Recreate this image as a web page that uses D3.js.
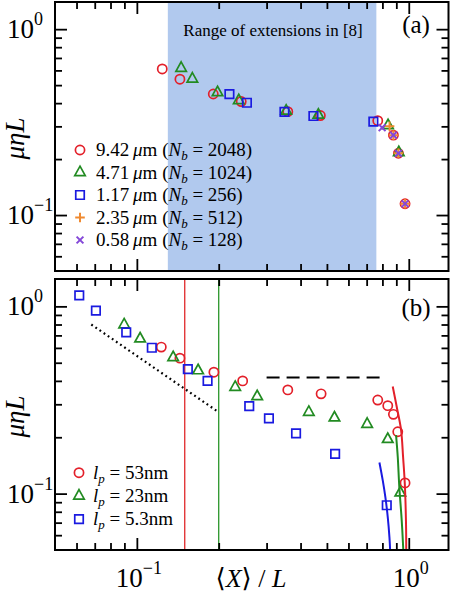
<!DOCTYPE html>
<html><head><meta charset="utf-8">
<script src="https://cdn.jsdelivr.net/npm/d3@7"></script>
<style>
html,body{margin:0;padding:0;background:#fff;}
svg{display:block;}
</style></head><body>
<div id="chart"></div>
<script>
// ---------- DATA ----------
const xMajor = [0.1, 1];
const xMinor = [0.06,0.07,0.08,0.09,0.2,0.3,0.4,0.5,0.6,0.7,0.8,0.9];
const yMajor = [0.1, 1];
const yMinor = [0.06,0.07,0.08,0.09,0.2,0.3,0.4,0.5,0.6,0.7,0.8,0.9];
const tickLabels = [{v:0.1, base:"10", exp:"\u22121"}, {v:1, base:"10", exp:"0"}];

// panel (a)
const shadeRange = [0.13, 0.76];
const a_942 = [[0.124,0.611],[0.144,0.538],[0.191,0.448],[0.242,0.408],[0.359,0.360],[0.473,0.343],[0.769,0.322],[0.878,0.269],[0.916,0.215],[0.969,0.115]];
const a_471 = [[0.1455,0.617],[0.160,0.540],[0.198,0.456],[0.237,0.413],[0.354,0.363],[0.465,0.345],[0.839,0.303],[0.919,0.217]];
const a_117 = [[0.219,0.447],[0.254,0.402],[0.349,0.359],[0.446,0.341],[0.741,0.318]];
const a_235 = [[0.850,0.300],[0.878,0.269],[0.916,0.215],[0.969,0.115]];
const a_058 = [[0.798,0.295],[0.878,0.269],[0.916,0.215],[0.969,0.115]];
const legendA = [
  {num:"9.42", nb:"2048", sym:"circle", color:"#e3202a"},
  {num:"4.71", nb:"1024", sym:"triangle", color:"#228b22"},
  {num:"1.17", nb:"256", sym:"square", color:"#1a1ae0"},
  {num:"2.35", nb:"512", sym:"plus", color:"#f08a30"},
  {num:"0.58", nb:"128", sym:"cross", color:"#8448d8"}
];

// panel (b)
const b_53 = [[0.123,0.606],[0.144,0.529],[0.192,0.445],[0.245,0.400],[0.359,0.358],[0.476,0.341],[0.769,0.316],[0.837,0.295],[0.878,0.265],[0.911,0.214],[0.969,0.114]];
const b_23 = [[0.0898,0.798],[0.1028,0.671],[0.136,0.533],[0.168,0.454],[0.230,0.370],[0.277,0.330],[0.429,0.272],[0.533,0.254],[0.703,0.235],[0.837,0.195],[0.931,0.101]];
const b_53nm_curve = [[0.873,0.373],[0.903,0.291],[0.937,0.2186],[0.953,0.157],[0.967,0.113],[0.977,0.0692],[0.979,0.0497],[0.980,0.045]];
const b_23nm_curve = [[0.898,0.2055],[0.911,0.157],[0.923,0.1086],[0.942,0.072],[0.955,0.0497],[0.957,0.045]];
const b_5nm_curve = [[0.780,0.1467],[0.802,0.118],[0.820,0.096],[0.837,0.075],[0.849,0.0586],[0.854,0.0497],[0.855,0.045]];
const b_5 = [[0.0614,1.145],[0.0707,0.948],[0.0914,0.726],[0.1135,0.601],[0.154,0.462],[0.182,0.400],[0.259,0.293],[0.306,0.252],[0.385,0.210],[0.536,0.163],[0.830,0.0867]];
const dottedLine = [[0.068,0.80],[0.20,0.272]];
const dashedLine = [[0.30,0.417],[0.80,0.417]];
const vLines = [{x:0.15, color:"#e0282a"},{x:0.2, color:"#2a962a"}];
const legendB = [
  {lp:"53", sym:"circle", color:"#e3202a"},
  {lp:"23", sym:"triangle", color:"#228b22"},
  {lp:"5.3", sym:"square", color:"#1a1ae0"}
];

// ---------- CHART ----------
const W = 452, H = 600;
const svg = d3.select("#chart").append("svg").attr("width", W).attr("height", H)
  .attr("font-family", "'Liberation Serif','Times New Roman','DejaVu Serif',serif");
const L = 55, R = 448.5;
const x = d3.scaleLog().domain([0.05, 1.4]).range([L, R]);
const yA = d3.scaleLog().domain([0.05, 1.4]).range([271, 2]);
const yB = d3.scaleLog().domain([0.05, 1.4]).range([550, 279]);

const defs = svg.append("defs");
defs.append("clipPath").attr("id","clipA").append("rect").attr("x",L).attr("y",2).attr("width",R-L).attr("height",269);
defs.append("clipPath").attr("id","clipB").append("rect").attr("x",L).attr("y",279).attr("width",R-L).attr("height",271);

function symPath(sym){
  if(sym==="triangle"){const s=10.5;return `M0,${-s*0.6}L${s/2},${s*0.3}L${-s/2},${s*0.3}Z`;}
  if(sym==="square"){const s=8.5;return `M${-s/2},${-s/2}h${s}v${s}h${-s}Z`;}
  if(sym==="plus"){const a=4.8;return `M${-a},0H${a}M0,${-a}V${a}`;}
  if(sym==="cross"){const a=3.4;return `M${-a},${-a}L${a},${a}M${-a},${a}L${a},${-a}`;}
  return null;
}
function drawMarker(g, sym, color, cx, cy){
  if(sym==="circle"){
    g.append("circle").attr("cx",cx).attr("cy",cy).attr("r",4.6)
     .attr("fill","none").attr("stroke",color).attr("stroke-width",1.7);
  } else {
    g.append("path").attr("d",symPath(sym)).attr("transform",`translate(${cx},${cy})`)
     .attr("fill","none").attr("stroke",color).attr("stroke-width",sym==="plus"||sym==="cross"?2:1.7);
  }
}
function drawSeries(g, data, y, sym, color){
  data.forEach(d => drawMarker(g, sym, color, x(d[0]), y(d[1])));
}

function frame(y, top, bottom){
  const g = svg.append("g");
  const addAxis = (axisFn, vals, size, transform) => {
    const ax = g.append("g").attr("transform", transform)
      .call(axisFn.tickValues(vals).tickSize(size).tickFormat(""));
    ax.select(".domain").remove();
    ax.selectAll(".tick line").attr("stroke","#000").attr("stroke-width",1.8);
  };
  addAxis(d3.axisBottom(x), xMajor, -12, `translate(0,${bottom})`);
  addAxis(d3.axisBottom(x), xMinor, -7, `translate(0,${bottom})`);
  addAxis(d3.axisTop(x), xMajor, -12, `translate(0,${top})`);
  addAxis(d3.axisTop(x), xMinor, -7, `translate(0,${top})`);
  addAxis(d3.axisLeft(y), yMajor, -12, `translate(${L},0)`);
  addAxis(d3.axisLeft(y), yMinor, -7, `translate(${L},0)`);
  addAxis(d3.axisRight(y), yMajor, -12, `translate(${R},0)`);
  addAxis(d3.axisRight(y), yMinor, -7, `translate(${R},0)`);
  g.append("rect").attr("x",L).attr("y",top).attr("width",R-L).attr("height",bottom-top)
    .attr("fill","none").attr("stroke","#000").attr("stroke-width",2);
  tickLabels.forEach(t => {
    const tx = g.append("text").attr("x",7).attr("y",y(t.v)+9).attr("font-size",27);
    tx.append("tspan").text(t.base);
    tx.append("tspan").attr("font-size",18).attr("dy",-13).text(t.exp);
  });
  g.append("text").attr("transform",`translate(24,${(top+bottom)/2+2}) rotate(-90)`)
    .attr("text-anchor","middle").attr("font-size",27).attr("font-style","italic").text("\u03bc\u03b7L");
}

// ----- Panel (a)
const pa = svg.append("g").attr("clip-path","url(#clipA)");
pa.append("rect").attr("x",x(shadeRange[0])).attr("y",2).attr("width",x(shadeRange[1])-x(shadeRange[0]))
  .attr("height",269).attr("fill","#b1c9ee");
drawSeries(pa, a_942, yA, "circle", legendA[0].color);
drawSeries(pa, a_471, yA, "triangle", legendA[1].color);
drawSeries(pa, a_117, yA, "square", legendA[2].color);
drawSeries(pa, a_235, yA, "plus", legendA[3].color);
drawSeries(pa, a_058, yA, "cross", legendA[4].color);

svg.append("text").attr("x",273).attr("y",36).attr("text-anchor","middle").attr("font-size",17)
  .text("Range of extensions in [8]");
svg.append("text").attr("x",416).attr("y",33).attr("text-anchor","middle").attr("font-size",25).text("(a)");

const lgA = svg.append("g");
legendA.forEach((d,i) => {
  const cy = 150 + i*22.5;
  drawMarker(lgA, d.sym, d.color, 80, cy);
  const t = lgA.append("text").attr("x",96).attr("y",cy+6).attr("font-size",19);
  t.append("tspan").text(d.num + "\u2009");
  t.append("tspan").attr("font-style","italic").text("\u03bc");
  t.append("tspan").text("m (");
  t.append("tspan").attr("font-style","italic").text("N");
  t.append("tspan").attr("font-style","italic").attr("font-size",13).attr("dy",4).text("b");
  t.append("tspan").attr("dy",-4).text(" = " + d.nb + ")");
});
frame(yA, 2, 271);

// ----- Panel (b)
const pb = svg.append("g").attr("clip-path","url(#clipB)");
vLines.forEach(v => {
  pb.append("line").attr("x1",x(v.x)).attr("x2",x(v.x)).attr("y1",279).attr("y2",550)
    .attr("stroke",v.color).attr("stroke-width",1.3);
});
const lineB = d3.line().x(d=>x(d[0])).y(d=>yB(d[1]));
const curveB = d3.line().x(d=>x(d[0])).y(d=>yB(d[1])).curve(d3.curveCatmullRom);
pb.append("path").attr("d",lineB(dottedLine)).attr("fill","none").attr("stroke","#000")
  .attr("stroke-width",2.2).attr("stroke-dasharray","1.8,3.2").attr("stroke-linecap","butt");
pb.append("path").attr("d",lineB(dashedLine)).attr("fill","none").attr("stroke","#000")
  .attr("stroke-width",2).attr("stroke-dasharray","13,7");
drawSeries(pb, b_53, yB, "circle", legendB[0].color);
drawSeries(pb, b_23, yB, "triangle", legendB[1].color);
drawSeries(pb, b_5, yB, "square", legendB[2].color);
pb.append("path").attr("d",curveB(b_53nm_curve)).attr("fill","none").attr("stroke",legendB[0].color).attr("stroke-width",2);
pb.append("path").attr("d",curveB(b_23nm_curve)).attr("fill","none").attr("stroke",legendB[1].color).attr("stroke-width",2);
pb.append("path").attr("d",curveB(b_5nm_curve)).attr("fill","none").attr("stroke",legendB[2].color).attr("stroke-width",2);

svg.append("text").attr("x",416).attr("y",316).attr("text-anchor","middle").attr("font-size",25).text("(b)");

const lgB = svg.append("g");
legendB.forEach((d,i) => {
  const cy = 472.7 + i*23.2;
  drawMarker(lgB, d.sym, d.color, 79, cy);
  const t = lgB.append("text").attr("x",93).attr("y",cy+6).attr("font-size",19);
  t.append("tspan").attr("font-style","italic").text("l");
  t.append("tspan").attr("font-style","italic").attr("font-size",13).attr("dy",4).text("p");
  t.append("tspan").attr("dy",-4).text(" = " + d.lp + "nm");
});
frame(yB, 279, 550);

tickLabels.forEach(t => {
  const tx = svg.append("text").attr("x",x(t.v)+2).attr("y",586.5).attr("font-size",27).attr("text-anchor","middle");
  tx.append("tspan").text(t.base);
  tx.append("tspan").attr("font-size",18).attr("dy",-13).text(t.exp);
});
const xt = svg.append("text").attr("x",251).attr("y",586.5).attr("text-anchor","middle").attr("font-size",26);
xt.append("tspan").text("\u27e8");
xt.append("tspan").attr("font-style","italic").text("X");
xt.append("tspan").text("\u27e9 / ");
xt.append("tspan").attr("font-style","italic").text("L");
</script>
</body></html>
